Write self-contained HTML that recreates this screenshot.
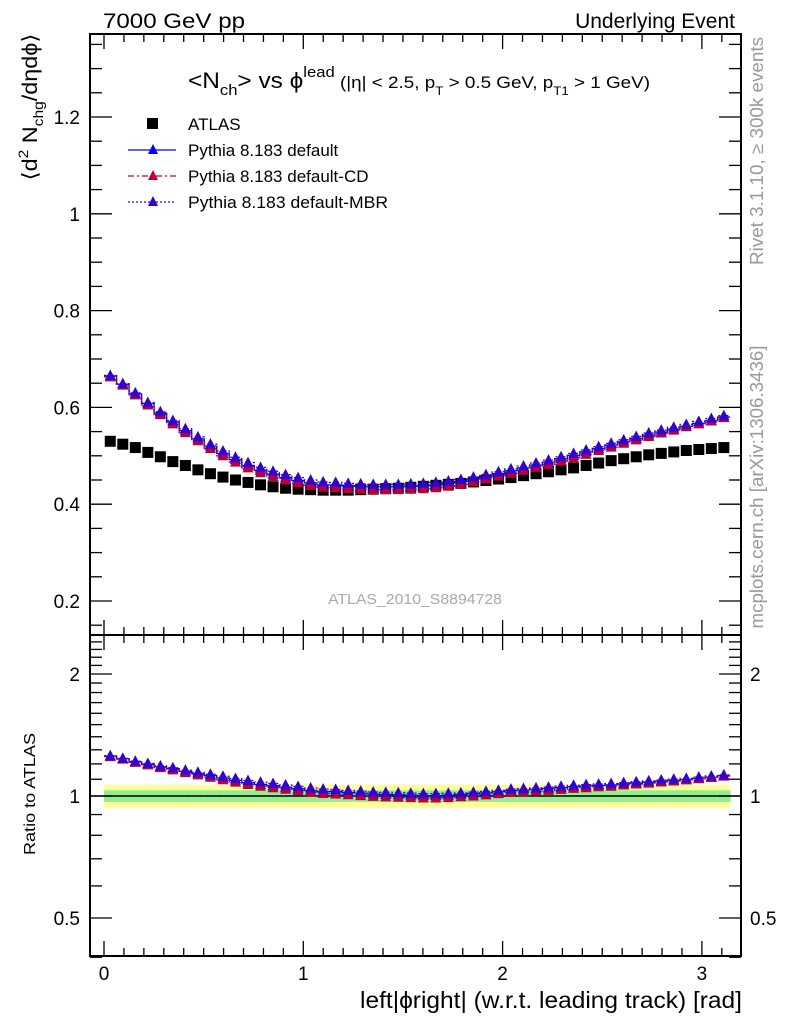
<!DOCTYPE html>
<html><head><meta charset="utf-8"><style>
html,body{margin:0;padding:0;background:#fff;}
svg{display:block;font-family:"Liberation Sans",sans-serif;}
</style></head><body>
<svg id="chart" width="786" height="1024" viewBox="0 0 786 1024" xmlns="http://www.w3.org/2000/svg">
<text x="103" y="28" font-size="21" textLength="142" lengthAdjust="spacingAndGlyphs">7000 GeV pp</text>
<text x="735" y="28" font-size="21" text-anchor="end">Underlying Event</text>
<text transform="translate(763,151) rotate(-90)" font-size="18" fill="#999" text-anchor="middle" textLength="228" lengthAdjust="spacingAndGlyphs">Rivet 3.1.10, ≥ 300k events</text>
<text transform="translate(763,487) rotate(-90)" font-size="18" fill="#999" text-anchor="middle" textLength="283" lengthAdjust="spacingAndGlyphs">mcplots.cern.ch [arXiv:1306.3436]</text>
<text x="188" y="88" font-size="22" textLength="462" lengthAdjust="spacingAndGlyphs">&lt;N<tspan font-size="15" dy="7">ch</tspan><tspan dy="-7">&gt; vs ϕ</tspan><tspan font-size="15" dy="-11">lead</tspan><tspan font-size="17" dy="11"> (|η| &lt; 2.5, p</tspan><tspan font-size="12" dy="7">T</tspan><tspan font-size="17" dy="-7"> &gt; 0.5 GeV, p</tspan><tspan font-size="12" dy="7">T1</tspan><tspan font-size="17" dy="-7"> &gt; 1 GeV)</tspan></text>
<text transform="translate(37,107) rotate(-90)" font-size="21" text-anchor="middle" textLength="147" lengthAdjust="spacingAndGlyphs">⟨d<tspan font-size="14" dy="-9">2</tspan><tspan dy="9"> N</tspan><tspan font-size="14" dy="6">chg</tspan><tspan dy="-6">/dηdϕ⟩</tspan></text>
<text transform="translate(35,794) rotate(-90)" font-size="16" text-anchor="middle" textLength="122" lengthAdjust="spacingAndGlyphs">Ratio to ATLAS</text>
<text x="742" y="1008" font-size="23" text-anchor="end" textLength="382" lengthAdjust="spacingAndGlyphs">left|ϕright| (w.r.t. leading track) [rad]</text>
<text x="415" y="604" font-size="15" fill="#aaa" text-anchor="middle" textLength="174" lengthAdjust="spacingAndGlyphs">ATLAS_2010_S8894728</text>
<g id="g"></g>
<g>
<rect x="147" y="118" width="11" height="11" fill="#000"/>
<text x="188" y="130" font-size="17">ATLAS</text>
<line x1="128" y1="150" x2="176" y2="150" stroke="#0000ff" stroke-width="1.3"/>
<polygon points="153,144 158,154 148,154" fill="#0000ff"/>
<text x="188" y="156" font-size="17">Pythia 8.183 default</text>
<line x1="128" y1="176" x2="176" y2="176" stroke="#bb0033" stroke-width="1.3" stroke-dasharray="6,3,2,3"/>
<polygon points="153,170 158,180 148,180" fill="#bb0033"/>
<text x="188" y="182" font-size="17">Pythia 8.183 default-CD</text>
<line x1="128" y1="202" x2="176" y2="202" stroke="#3300cc" stroke-width="1.3" stroke-dasharray="2,2"/>
<polygon points="153,196 158,206 148,206" fill="#3300cc"/>
<text x="188" y="208" font-size="17" textLength="200" lengthAdjust="spacingAndGlyphs">Pythia 8.183 default-MBR</text>
</g>
</svg>
<script>
const atlas=[0.530,0.524,0.517,0.507,0.498,0.488,0.480,0.471,0.463,0.456,0.450,0.445,0.440,0.436,0.433,0.431,0.430,0.429,0.429,0.429,0.430,0.431,0.432,0.433,0.435,0.437,0.439,0.441,0.443,0.446,0.449,0.452,0.455,0.459,0.463,0.467,0.471,0.475,0.480,0.485,0.490,0.494,0.498,0.502,0.505,0.508,0.511,0.513,0.515,0.517];
const mcDefault=[0.665,0.648,0.628,0.608,0.588,0.570,0.552,0.535,0.520,0.505,0.492,0.480,0.470,0.462,0.455,0.449,0.444,0.440,0.440,0.438,0.437,0.436,0.436,0.436,0.437,0.438,0.440,0.443,0.447,0.452,0.457,0.463,0.469,0.475,0.481,0.487,0.494,0.501,0.508,0.515,0.522,0.529,0.536,0.543,0.549,0.555,0.561,0.567,0.573,0.580];
const mcCD=[0.663,0.646,0.626,0.605,0.585,0.566,0.548,0.531,0.515,0.500,0.487,0.475,0.465,0.457,0.450,0.444,0.439,0.435,0.434,0.432,0.431,0.430,0.430,0.430,0.431,0.432,0.434,0.437,0.441,0.446,0.452,0.458,0.464,0.470,0.476,0.482,0.489,0.496,0.503,0.511,0.518,0.526,0.533,0.540,0.547,0.553,0.560,0.566,0.572,0.579];
const mcMBR=[0.666,0.649,0.630,0.610,0.591,0.573,0.556,0.539,0.524,0.510,0.497,0.486,0.476,0.468,0.461,0.455,0.450,0.446,0.445,0.443,0.442,0.441,0.441,0.441,0.442,0.443,0.445,0.448,0.451,0.456,0.461,0.467,0.473,0.479,0.485,0.491,0.498,0.505,0.512,0.519,0.526,0.533,0.540,0.547,0.553,0.559,0.565,0.571,0.577,0.583];
const bandYellow=0.065;
const bandGreen=0.033;
const xTicks=[0,1,2,3];
const yTicks=[0.2,0.4,0.6,0.8,1,1.2];
const rTicks=[0.5,1,2];
const NS="http://www.w3.org/2000/svg";
const g=document.getElementById('g');
const L=90,R=741,T=34,MB=635,RB=956;
const X=v=>104+v*199.3;
const Y=v=>601-(v-0.2)*484;
const RY=r=>796-Math.log2(r)*122;
function mk(t,a,p){const e=document.createElementNS(NS,t);for(const k in a)e.setAttribute(k,a[k]);(p||g).appendChild(e);return e;}
const nb=atlas.length,w=Math.PI/nb;
const cx=i=>X((i+0.5)*w);
for(let i=0;i<nb;i++){
 const y=mk('rect',{x:X(i*w),width:X((i+1)*w)-X(i*w)+0.5,y:RY(1+bandYellow),height:RY(1-bandYellow)-RY(1+bandYellow),fill:'#ffff99'});
 
 
 const gr=mk('rect',{x:X(i*w),width:X((i+1)*w)-X(i*w)+0.5,y:RY(1+bandGreen),height:RY(1-bandGreen)-RY(1+bandGreen),fill:'#90ee90'});
 
 
}
const one=mk('line',{x1:L,x2:R,y1:RY(1),y2:RY(1),stroke:'#000','stroke-width':1.5});


for(const [t,b,n] of [[T,MB,'main-frame'],[MB,RB,'ratio-frame']]){
 const f=mk('rect',{x:L,y:t,width:R-L,height:b-t,fill:'none',stroke:'#000','stroke-width':2});
 
 
 for(let k=0;k<=32;k++){const v=k/10,x=X(v);if(x>R)break;const len=k%10==0?15:8;
  mk('line',{x1:x,x2:x,y1:b,y2:b-len,stroke:'#000','stroke-width':1.3});
  mk('line',{x1:x,x2:x,y1:t,y2:t+len,stroke:'#000','stroke-width':1.3});}
}
xTicks.forEach(v=>{const t=mk('text',{x:X(v),y:980,'font-size':19,'text-anchor':'middle'});t.textContent=v;
 
 });
for(let k=3;k<=27;k++){const v=k*0.05,y=Y(v);if(y<T||y>MB)continue;const len=k%4==0?22:12;
 mk('line',{x1:L,x2:L+len,y1:y,y2:y,stroke:'#000','stroke-width':1.3});
 mk('line',{x1:R,x2:R-len,y1:y,y2:y,stroke:'#000','stroke-width':1.3});}
yTicks.forEach(v=>{const t=mk('text',{x:80,y:Y(v)+7,'font-size':19,'text-anchor':'end'});t.textContent=v;
 
 });
for(let k=4;k<=25;k++){const v=k/10,y=RY(v);const maj=(k==5||k==10||k==20);const len=maj?22:12;
 mk('line',{x1:L,x2:L+len,y1:y,y2:y,stroke:'#000','stroke-width':1.3});
 mk('line',{x1:R,x2:R-len,y1:y,y2:y,stroke:'#000','stroke-width':1.3});}
rTicks.forEach(v=>{const t=mk('text',{x:80,y:RY(v)+7,'font-size':19,'text-anchor':'end'});t.textContent=v;
 
 
 const t2=mk('text',{x:750,y:RY(v)+7,'font-size':19});t2.textContent=v;
 
 });
function tri(x,y,c,name){const p=mk('polygon',{points:`${x},${y-6} ${x+5.5},${y+4.5} ${x-5.5},${y+4.5}`,fill:c});
 
 }
const sq=(i)=>{const r=mk('rect',{x:cx(i)-5.5,y:Y(atlas[i])-5.5,width:11,height:11,fill:'#000'});
 
 };
for(let i=0;i<nb;i++)sq(i);
const series=[[mcDefault,'#0000ff','','default'],[mcCD,'#bb0033','6,3,2,3','cd'],[mcMBR,'#3300cc','2,2','mbr']];
series.forEach(([d,c,da,n])=>{
 let p='',pr='';
 for(let i=0;i<nb;i++){p+=(i?'L':'M')+X(i*w)+','+Y(d[i])+'H'+X((i+1)*w);pr+=(i?'L':'M')+X(i*w)+','+RY(d[i]/atlas[i])+'H'+X((i+1)*w);}
 const l=mk('path',{d:p,fill:'none',stroke:c,'stroke-width':1.3,'stroke-dasharray':da});
 
 
 const lr=mk('path',{d:pr,fill:'none',stroke:c,'stroke-width':1.3,'stroke-dasharray':da});
 
 
 for(let i=0;i<nb;i++){tri(cx(i),Y(d[i]),c,'point-'+n);tri(cx(i),RY(d[i]/atlas[i]),c,'ratio-point-'+n);}
});
</script>
</body></html>
